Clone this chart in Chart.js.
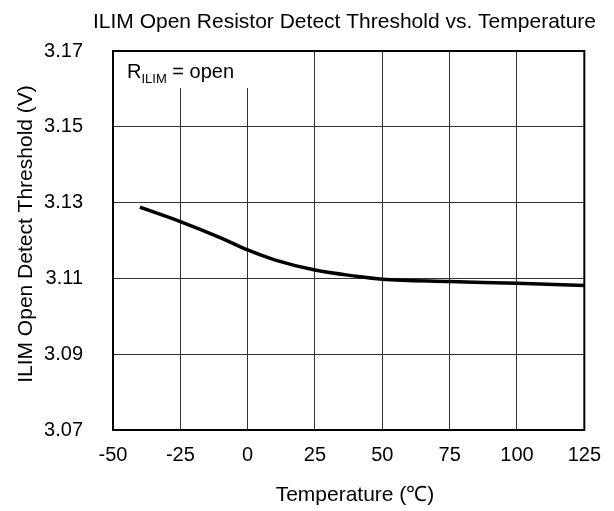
<!DOCTYPE html>
<html>
<head>
<meta charset="utf-8">
<script src="https://cdn.jsdelivr.net/npm/chart.js@4.4.1/dist/chart.umd.min.js"></script>
<style>
    html, body { margin: 0; padding: 0; background: #fff; }
    #wrap { width: 614px; height: 511px; }
</style>
</head>
<body>
<div id="wrap"><canvas id="chart" width="614" height="511"></canvas></div>
<script>
// Temperature (°C) and threshold (V)
const temps = [-40, -25, -10, 0, 10, 25, 40, 50, 75, 100, 125];
const threshold = [3.1288, 3.1250, 3.1207, 3.1175, 3.1149, 3.1122, 3.1106, 3.1098, 3.1092, 3.1087, 3.1081];
const xTicks = [-50, -25, 0, 25, 50, 75, 100, 125];
const yTicks = [3.07, 3.09, 3.11, 3.13, 3.15, 3.17];

const FONT = 'Arial, "Liberation Sans", sans-serif';

// titles, annotation box and frame drawn on top of the chart
const decorations = {
    id: 'decorations',
    beforeDatasetsDraw(chart) {
        const ctx = chart.ctx;
        const area = chart.chartArea;
        ctx.save();
        // white box behind the R_ILIM label
        ctx.fillStyle = '#fff';
        ctx.fillRect(area.left, area.top, 142, 37);
        ctx.fillStyle = '#000';
        ctx.textBaseline = 'alphabetic';
        ctx.textAlign = 'left';
        ctx.font = '20px ' + FONT;
        ctx.fillText('R', 127, 78);
        let x = 127 + ctx.measureText('R').width;
        ctx.font = '13px ' + FONT;
        ctx.fillText('ILIM', x, 83);
        x += ctx.measureText('ILIM').width;
        ctx.font = '20px ' + FONT;
        ctx.fillText(' = open', x, 78);
        ctx.restore();
    },
    afterDraw(chart) {
        const ctx = chart.ctx;
        const area = chart.chartArea;
        ctx.save();
        ctx.strokeStyle = '#000';
        ctx.lineWidth = 2;
        ctx.strokeRect(area.left, area.top, area.right - area.left, area.bottom - area.top);

        ctx.fillStyle = '#000';
        ctx.font = '21px ' + FONT;
        ctx.textAlign = 'right';
        ctx.textBaseline = 'middle';
        ctx.fillText('ILIM Open Resistor Detect Threshold vs. Temperature', 596, 22);

        ctx.textAlign = 'center';
        ctx.font = '21px ' + FONT;
        ctx.fillText('Temperature (℃)', 355, 495);

        ctx.translate(26, 234);
        ctx.rotate(-Math.PI / 2);
        ctx.fillText('ILIM Open Detect Threshold (V)', 0, 0);
        ctx.restore();
    }
};

const ctx = document.getElementById('chart').getContext('2d');
new Chart(ctx, {
    type: 'line',
    data: {
        datasets: [{
            data: temps.map((t, i) => ({ x: t, y: threshold[i] })),
            borderColor: '#000',
            borderWidth: 3.5,
            pointRadius: 0,
            cubicInterpolationMode: 'monotone',
            fill: false,
        }],
    },
    options: {
        responsive: false,
        animation: false,
        layout: { padding: { top: 51, right: 28, left: 0, bottom: 0 } },
        plugins: {
            legend: { display: false },
            tooltip: { enabled: false },
        },
        scales: {
            x: {
                type: 'linear',
                min: -50,
                max: 125,
                afterBuildTicks: axis => { axis.ticks = xTicks.map(v => ({ value: v })); },
                afterFit: axis => { axis.height = 81; },
                grid: { color: '#333', lineWidth: 1, drawTicks: false },
                border: { display: false },
                ticks: { color: '#000', font: { family: FONT, size: 20 }, padding: 13 },
            },
            y: {
                type: 'linear',
                min: 3.07,
                max: 3.17,
                afterBuildTicks: axis => { axis.ticks = yTicks.map(v => ({ value: v })); },
                afterFit: axis => { axis.width = 113; },
                grid: { color: '#333', lineWidth: 1, drawTicks: false },
                border: { display: false },
                ticks: {
                    color: '#000',
                    font: { family: FONT, size: 20 },
                    padding: 30,
                    callback: v => v.toFixed(2),
                },
            },
        },
    },
    plugins: [decorations],
});
</script>
</body>
</html>
